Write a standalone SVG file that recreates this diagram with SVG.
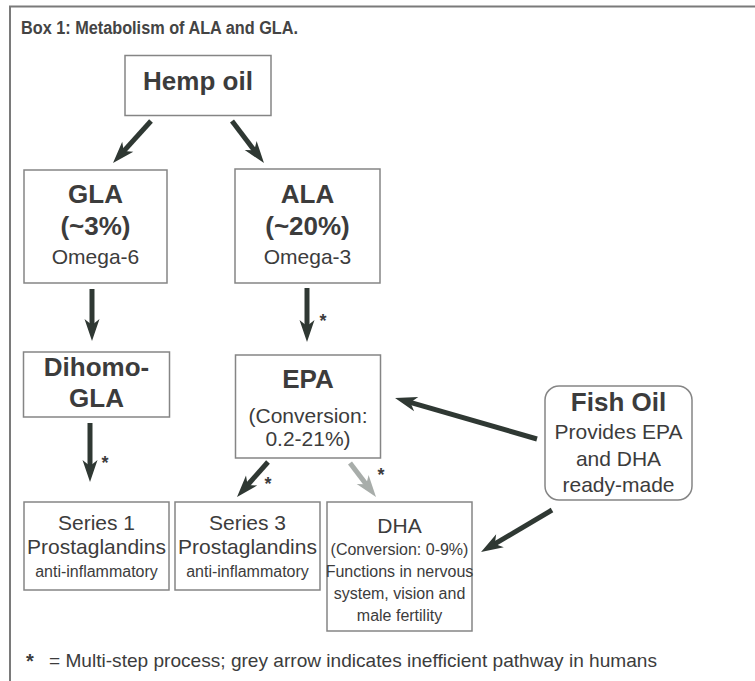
<svg xmlns="http://www.w3.org/2000/svg" width="755" height="681" viewBox="0 0 755 681">
<defs>
<style>
.box{fill:#fff;stroke:#858585;stroke-width:1.5}
.t{font-family:"Liberation Sans",Arial,sans-serif;fill:#3c3c3c;text-anchor:middle}
.b{font-weight:bold;font-size:26px}
.r{font-size:21px}
.s{font-size:16px}
.arr{fill:none;stroke:#2f3833;stroke-width:5}
.arrg{fill:none;stroke:#a8adaa;stroke-width:5}
</style>
<marker id="hd" markerUnits="userSpaceOnUse" markerWidth="22" markerHeight="16" refX="8" refY="8" orient="auto" overflow="visible">
<path d="M0,0.5 L22,8 L0,15.5 L6,8 Z" fill="#2f3833"/>
</marker>
<marker id="hg" markerUnits="userSpaceOnUse" markerWidth="22" markerHeight="16" refX="8" refY="8" orient="auto" overflow="visible">
<path d="M0,0.5 L22,8 L0,15.5 L6,8 Z" fill="#a8adaa"/>
</marker>
</defs>
<rect width="755" height="681" fill="#fff"/>
<g id="frame">
<path d="M10,681 L10,6.5 L755,6.5" fill="none" stroke="#7a7a7a" stroke-width="2"/>
<text x="21" y="34" font-family="'Liberation Sans',Arial,sans-serif" font-weight="bold" font-size="18" fill="#444" textLength="277" lengthAdjust="spacingAndGlyphs">Box 1: Metabolism of ALA and GLA.</text>
</g>
<g id="connectors">
<path class="arr" d="M151,121 L122.4,152.6" marker-end="url(#hd)"/>
<path class="arr" d="M232,121 L255.5,151.9" marker-end="url(#hd)"/>
<path class="arr" d="M92,289 L92,327" marker-end="url(#hd)"/>
<path class="arr" d="M90,423 L90,468" marker-end="url(#hd)"/>
<path class="arr" d="M307,288 L307,328" marker-end="url(#hd)"/>
<path class="arr" d="M268,462 L246.3,486.5" marker-end="url(#hd)"/>
<path class="arrg" d="M350,463 L367.5,485.9" marker-end="url(#hg)"/>
<path class="arr" d="M537,439 L408.5,401.9" marker-end="url(#hd)"/>
<path class="arr" d="M552,510 L493.1,544.9" marker-end="url(#hd)"/>
<g class="t" font-size="18" font-weight="bold">
<text x="323" y="327" class="t">*</text>
<text x="105" y="469" class="t">*</text>
<text x="268" y="490" class="t">*</text>
<text x="381" y="481" class="t">*</text>
</g>
</g>
<g id="hemp">
<rect class="box" x="125" y="55.5" width="146" height="60"/>
<text class="t b" x="198" y="90" font-size="27">Hemp oil</text>
</g>
<g id="gla">
<rect class="box" x="24" y="170" width="143" height="113"/>
<text class="t b" x="95.5" y="203">GLA</text>
<text class="t b" x="95.5" y="235">(~3%)</text>
<text class="t r" x="95.5" y="264">Omega-6</text>
</g>
<g id="ala">
<rect class="box" x="235" y="169" width="145" height="114"/>
<text class="t b" x="307.5" y="203">ALA</text>
<text class="t b" x="307.5" y="235">(~20%)</text>
<text class="t r" x="307.5" y="264">Omega-3</text>
</g>
<g id="dihomo">
<rect class="box" x="23.5" y="352" width="146" height="65"/>
<text class="t b" x="96.5" y="376">Dihomo-</text>
<text class="t b" x="96.5" y="407">GLA</text>
</g>
<g id="epa">
<rect class="box" x="235.5" y="355" width="145" height="103"/>
<text class="t b" x="308" y="388">EPA</text>
<text class="t r" x="308" y="423">(Conversion:</text>
<text class="t r" x="308" y="446">0.2-21%)</text>
</g>
<g id="fish">
<rect class="box" x="545" y="386" width="147" height="114" rx="14"/>
<text class="t b" x="618.5" y="411">Fish Oil</text>
<text class="t r" x="618.5" y="439">Provides EPA</text>
<text class="t r" x="618.5" y="466">and DHA</text>
<text class="t r" x="618.5" y="492">ready-made</text>
</g>
<g id="series1">
<rect class="box" x="24" y="502" width="145" height="88"/>
<text class="t r" x="96.5" y="530">Series 1</text>
<text class="t r" x="96.5" y="554">Prostaglandins</text>
<text class="t s" x="96.5" y="577">anti-inflammatory</text>
</g>
<g id="series3">
<rect class="box" x="175" y="502" width="145" height="88"/>
<text class="t r" x="247.5" y="530">Series 3</text>
<text class="t r" x="247.5" y="554">Prostaglandins</text>
<text class="t s" x="247.5" y="577">anti-inflammatory</text>
</g>
<g id="dha">
<rect class="box" x="327" y="502" width="145" height="129"/>
<text class="t r" x="399.5" y="533">DHA</text>
<text class="t s" x="399.5" y="555">(Conversion: 0-9%)</text>
<text class="t s" x="399.5" y="577">Functions in nervous</text>
<text class="t s" x="399.5" y="599">system, vision and</text>
<text class="t s" x="399.5" y="621">male fertility</text>
</g>
<g id="footnote">
<text x="26" y="668" font-family="'Liberation Sans',Arial,sans-serif" font-weight="bold" font-size="20" fill="#3c3c3c">*</text>
<text x="49" y="667" font-family="'Liberation Sans',Arial,sans-serif" font-size="19" fill="#3c3c3c" textLength="608" lengthAdjust="spacingAndGlyphs">= Multi-step process; grey arrow indicates inefficient pathway in humans</text>
</g>
</svg>
